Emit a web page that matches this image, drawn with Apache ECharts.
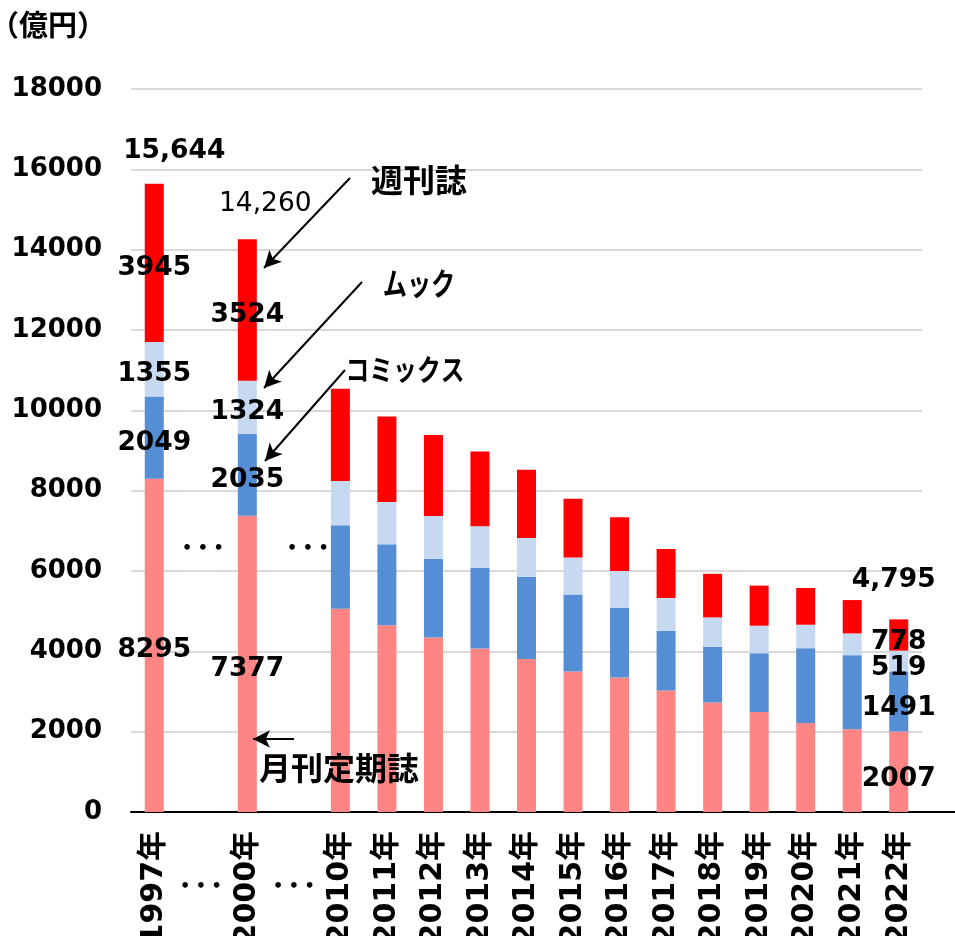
<!DOCTYPE html>
<html>
<head>
<meta charset="utf-8">
<script src="https://cdn.jsdelivr.net/npm/echarts@6/dist/echarts.min.js"></script>
<style>
  html, body { margin: 0; padding: 0; background: #ffffff; }
  #chart { width: 955px; height: 936px; }
</style>
</head>
<body>
<div id="chart"></div>
<script>
// Magazine sales by type (億円); blank categories mark skipped years
const categories = ['1997年', '', '2000年', '', '2010年', '2011年', '2012年', '2013年', '2014年',
  '2015年', '2016年', '2017年', '2018年', '2019年', '2020年', '2021年', '2022年'];
const monthly = [8295, null, 7377, null, 5063, 4648, 4342, 4068, 3811, 3495, 3346, 3025, 2724, 2492, 2218, 2058, 2007];
const comics  = [2049, null, 2035, null, 2074, 2016, 1966, 2016, 2042, 1917, 1742, 1481, 1390, 1463, 1861, 1847, 1491];
const mooks   = [1355, null, 1324, null, 1106, 1056, 1063, 1028,  970,  921,  914,  823,  731,  683,  584,  541,  519];
const weekly  = [3945, null, 3524, null, 2293, 2124, 2014, 1860, 1697, 1468, 1337, 1219, 1085,  999,  913,  830,  778];
const yTicks = [0, 2000, 4000, 6000, 8000, 10000, 12000, 14000, 16000, 18000];
const labeledYears = ['1997年', '2000年', '2022年'];
const gapLabel = '• • •';

const FONT = "'DejaVu Sans', 'Noto Sans CJK JP', sans-serif";

const isLabeled = (i) => labeledYears.includes(categories[i]);
const isGap = (i) => categories[i] === '';

function stackSeries(name, values, color) {
  return {
    name: name,
    type: 'bar',
    stack: 'total',
    barWidth: 19,
    itemStyle: { color: color },
    data: values.map((v, i) => ({
      value: v,
      label: {
        show: isLabeled(i),
        position: 'inside',
        offset: [0, categories[i] === '2022年' ? 7 : 5],
        color: '#000',
        fontFamily: FONT,
        fontWeight: 'bold',
        fontSize: 26.5,
        formatter: (p) => String(p.value)
      }
    }))
  };
}

const totals = categories.map((c, i) =>
  isLabeled(i) ? monthly[i] + comics[i] + mooks[i] + weekly[i] : null);

// label placement for the totals above the bars
const totalLabelStyle = {
  '1997年': { offset: [20, -33], fontWeight: 'bold' },
  '2000年': { offset: [18, -35], fontWeight: 'normal' },
  '2022年': { offset: [-5, -39], fontWeight: 'bold' }
};

const gapDotLevel = 6560;
const gapDotShift = { 1: 2, 3: 14 };

const chart = echarts.init(document.getElementById('chart'), null, { renderer: 'canvas' });

const arrowStyle = { color: '#000', width: 2, type: 'solid', opacity: 1 };
const jpLabel = (text, x, y, size, squeeze) => ({
  type: 'text', x: x, y: y, z: 100, scaleX: squeeze || 1,
  style: { text: text, font: 'bold ' + size + "px 'Noto Sans CJK JP'", fill: '#000',
    align: 'center', verticalAlign: 'middle' }
});

const option = {
  animation: false,
  backgroundColor: '#ffffff',
  grid: { left: 131, right: 33, top: 89, bottom: 124, containLabel: false, outerBoundsMode: 'none' },
  xAxis: [{
    type: 'category',
    data: categories,
    axisLine: { show: true, lineStyle: { color: '#000', width: 2 } },
    axisTick: { show: false },
    axisLabel: {
      rotate: 90,
      interval: 0,
      margin: 19,
      color: '#000',
      fontFamily: FONT,
      fontWeight: 'bold',
      fontSize: 30
    },
    splitLine: { show: false }
  }, {
    type: 'category',
    position: 'bottom',
    data: categories.map((c, i) => (isGap(i) ? gapLabel : '')),
    axisLine: { show: false },
    axisTick: { show: false },
    axisLabel: {
      interval: 0,
      margin: 67,
      color: '#000',
      fontFamily: FONT,
      fontWeight: 'bold',
      fontSize: 16
    }
  }],
  yAxis: {
    type: 'value',
    min: yTicks[0],
    max: yTicks[yTicks.length - 1],
    interval: 2000,
    axisLine: { show: false },
    axisTick: { show: false },
    axisLabel: {
      margin: 29,
      color: '#000',
      fontFamily: FONT,
      fontWeight: 'bold',
      fontSize: 26,
      formatter: (v) => String(v)
    },
    splitLine: { lineStyle: { color: '#d9d9d9', width: 2 } }
  },
  series: [
    stackSeries('月刊定期誌', monthly, '#ff8585'),
    stackSeries('コミックス', comics, '#558ed5'),
    stackSeries('ムック', mooks, '#c6d9f1'),
    stackSeries('週刊誌', weekly, '#ff0000'),
    {
      name: '合計',
      type: 'scatter',
      symbolSize: 0,
      silent: true,
      z: 5,
      itemStyle: { opacity: 1 },
      data: totals.map((v, i) => v === null ? null : ({
        value: v,
        label: {
          show: true,
          position: 'inside',
          offset: totalLabelStyle[categories[i]].offset,
          fontWeight: totalLabelStyle[categories[i]].fontWeight,
          color: '#000',
          fontFamily: FONT,
          fontSize: 26.5,
          formatter: (p) => p.value.toLocaleString('en-US')
        }
      })),
      markLine: {
        silent: true,
        symbol: ['none', 'arrow'],
        symbolSize: [13, 17],
        lineStyle: arrowStyle,
        label: { show: false },
        emphasis: { disabled: true },
        data: [
          [{ x: 350, y: 178 }, { x: 264, y: 268 }],
          [{ x: 362, y: 282 }, { x: 264, y: 388 }],
          [{ x: 345, y: 370 }, { x: 265, y: 461 }],
          [{ x: 294, y: 739 }, { x: 253, y: 739 }]
        ]
      }
    },
    {
      name: 'gap',
      type: 'scatter',
      symbolSize: 0,
      silent: true,
      itemStyle: { opacity: 1 },
      data: categories.map((c, i) => isGap(i) ? ({
        value: gapDotLevel,
        label: {
          show: true,
          position: 'inside',
          offset: [gapDotShift[i], 0],
          formatter: gapLabel,
          color: '#000',
          fontFamily: FONT,
          fontWeight: 'bold',
          fontSize: 16
        }
      }) : null)
    }
  ],
  graphic: [
    { type: 'text', x: -10, y: 25, z: 100,
      style: { text: '（億円）', font: "bold 29px 'Noto Sans CJK JP'", fill: '#000', verticalAlign: 'middle' } },
    jpLabel('週刊誌', 419, 180, 32),
    jpLabel('ムック', 419, 283, 31, 0.78),
    jpLabel('コミックス', 405, 370, 29, 0.82),
    jpLabel('月刊定期誌', 339, 768, 32)
  ]
};

chart.setOption(option);

// the baseline runs on past the plot to the right edge
const base = chart.convertToPixel({ yAxisIndex: 0 }, 0);
const plotRight = 955 - option.grid.right;
chart.setOption({
  graphic: option.graphic.concat([{
    type: 'line', z: 100,
    shape: { x1: plotRight - 1, y1: base, x2: 955, y2: base },
    style: { stroke: '#000', lineWidth: 2 }
  }])
});
</script>
</body>
</html>
